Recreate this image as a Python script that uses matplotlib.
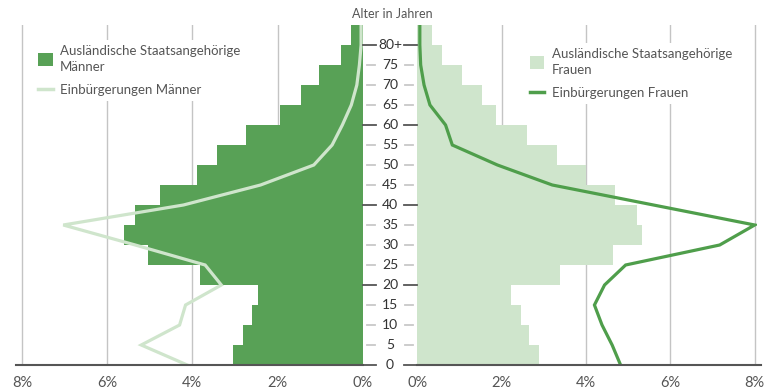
import matplotlib.pyplot as plt
from matplotlib.patches import Patch
from matplotlib.lines import Line2D

plt.rcParams['font.family'] = ['Lato', 'DejaVu Sans']

# age groups (lower bound of each 5-year band), last one is 80+
age_groups = [0, 5, 10, 15, 20, 25, 30, 35, 40, 45, 50, 55, 60, 65, 70, 75, 80]
age_labels = ['0', '5', '10', '15', '20', '25', '30', '35', '40', '45',
              '50', '55', '60', '65', '70', '75', '80+']

# share of foreign nationals per age group (%)
men_foreign = [3.04, 2.8, 2.6, 2.45, 3.83, 5.04, 5.6, 5.34, 4.75, 3.9,
               3.42, 2.75, 1.95, 1.44, 1.03, 0.52, 0.28]
women_foreign = [2.88, 2.66, 2.45, 2.21, 3.38, 4.65, 5.32, 5.21, 4.68, 4.0,
                 3.32, 2.59, 1.87, 1.54, 1.05, 0.59, 0.36]

# naturalisations (%), points at the band edges
line_ages = [0, 5, 10, 15, 20, 25, 30, 35, 40, 45, 50, 55, 60, 65, 70, 75, 80, 85]
men_natur = [4.12, 5.2, 4.3, 4.16, 3.32, 3.7, 5.34, 7.03, 4.21, 2.4, 1.15,
             0.72, 0.48, 0.27, 0.14, 0.08, 0.04, 0.04]
women_natur = [4.82, 4.62, 4.38, 4.2, 4.44, 4.94, 7.17, 8.0, 5.6, 3.2, 1.9,
               0.83, 0.67, 0.3, 0.16, 0.08, 0.06, 0.06]

pct_ticks = [0, 2, 4, 6, 8]
pct_labels = ['0%', '2%', '4%', '6%', '8%']

dark = '#58a156'
light = '#cfe5cc'
line_dark = '#4f9e4b'
grid_col = '#c4c4c4'
text_col = '#555555'

fig = plt.figure(figsize=(7.68, 3.9), dpi=100)
bottom = 25 / 390
height = 340 / 390
ax_l = fig.add_axes([19.8 / 768, bottom, 343 / 768, height])
ax_r = fig.add_axes([417.3 / 768, bottom, 339.5 / 768, height])
ax_m = fig.add_axes([362.7 / 768, bottom, 54.6 / 768, height])

ax_l.barh(age_groups, men_foreign, height=5, align='edge', color=dark, lw=0, zorder=2)
ax_l.plot(men_natur, line_ages, color=light, lw=2.3, zorder=3, solid_joinstyle='miter')
ax_r.barh(age_groups, women_foreign, height=5, align='edge', color=light, lw=0, zorder=2)
ax_r.plot(women_natur, line_ages, color=line_dark, lw=2.3, zorder=3, solid_joinstyle='miter')

ax_l.set_xlim(8.05, 0)
ax_r.set_xlim(0, 8.05)

for ax in (ax_l, ax_r):
    ax.set_ylim(0, 85)
    ax.set_yticks([])
    ax.set_xticks(pct_ticks)
    ax.set_xticklabels(pct_labels)
    ax.tick_params(axis='x', length=0, pad=8, labelsize=10.5, labelcolor=text_col)
    for s in ax.spines.values():
        s.set_visible(False)
    for g in pct_ticks[1:]:
        ax.axvline(g, color=grid_col, lw=1, zorder=0)

# baselines
ax_l.plot([-0.01, 1.0], [0, 0], transform=ax_l.get_yaxis_transform(),
          color='#555555', lw=1.5, clip_on=False, zorder=4)
ax_r.plot([0, 1.013], [0, 0], transform=ax_r.get_yaxis_transform(),
          color='#555555', lw=1.5, clip_on=False, zorder=4)

# age axis in the middle
ax_m.set_xlim(0, 1)
ax_m.set_ylim(0, 85)
ax_m.axis('off')
for age, lab in zip(age_groups, age_labels):
    major = age % 20 == 0
    col = '#555555' if major else '#c8c8c8'
    if major:
        ax_m.plot([0, 0.245], [age, age], color=col, lw=1.3, clip_on=False)
        ax_m.plot([0.76, 1.0], [age, age], color=col, lw=1.3, clip_on=False)
    else:
        ax_m.plot([0.08, 0.22], [age, age], color=col, lw=1.3, clip_on=False)
        ax_m.plot([0.78, 0.92], [age, age], color=col, lw=1.3, clip_on=False)
    ax_m.text(0.5, age, lab, ha='center', va='center', fontsize=10, color='#333333')

fig.text(392 / 768, 1 - 14 / 390, 'Alter in Jahren', ha='center', va='center',
         fontsize=9, color=text_col)

leg_kw = dict(loc='upper left', frameon=True, facecolor='white', edgecolor='none',
              framealpha=1, fancybox=False, fontsize=9.5, handlelength=1.1,
              handleheight=1.1, handletextpad=0.55, labelspacing=0.75,
              borderpad=0.4, borderaxespad=0, labelcolor=text_col)
leg_l = ax_l.legend(handles=[Patch(facecolor=dark, label='Ausländische Staatsangehörige\nMänner'),
                             Line2D([], [], color=light, lw=2.5, label='Einbürgerungen Männer')],
                    bbox_to_anchor=(0.0385, 0.956), **leg_kw)
leg_r = ax_r.legend(handles=[Patch(facecolor=light, label='Ausländische Staatsangehörige\nFrauen'),
                             Line2D([], [], color=line_dark, lw=2.5, label='Einbürgerungen Frauen')],
                    bbox_to_anchor=(0.316, 0.947), **leg_kw)
for leg in (leg_l, leg_r):
    for t in leg.get_texts():
        t.set_linespacing(1.4)

fig.savefig('out.png', dpi=100)
